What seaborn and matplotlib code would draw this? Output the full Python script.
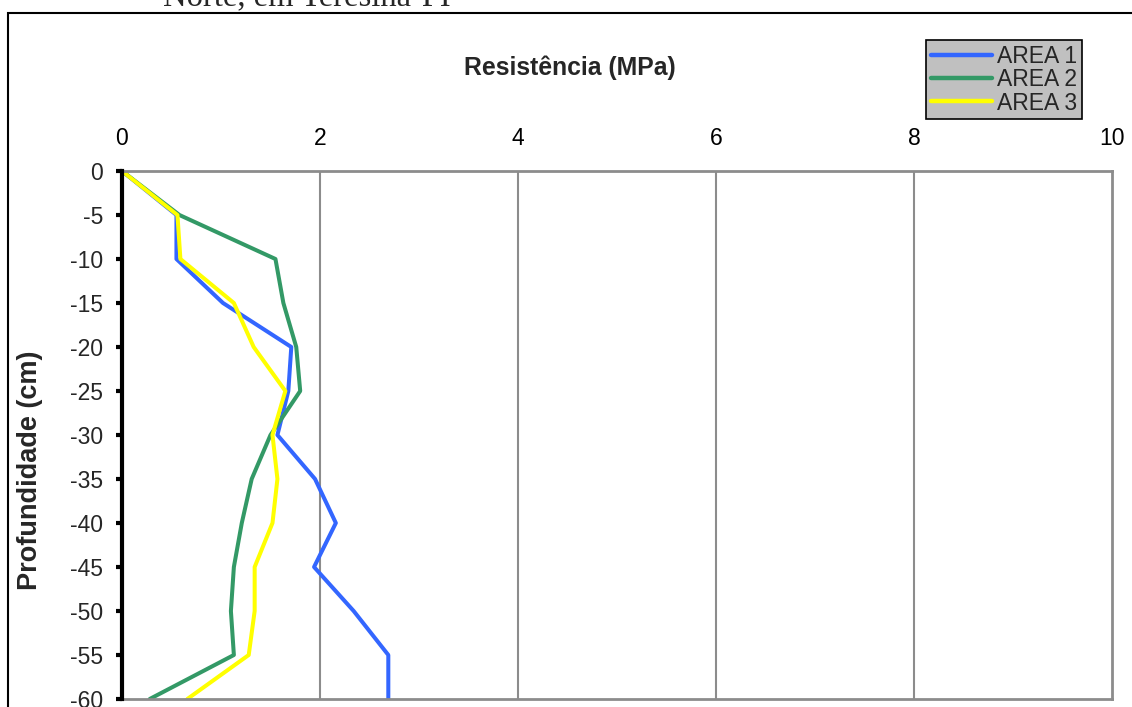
import matplotlib
matplotlib.use("Agg")
import matplotlib.pyplot as plt
import seaborn as sns
import pandas as pd
from matplotlib.patches import Rectangle

# Penetration resistance profiles (MPa) by depth (cm) for three areas
depth = [0, -5, -10, -15, -20, -25, -30, -35, -40, -45, -50, -55, -60]
area1 = [0.00, 0.55, 0.55, 1.02, 1.71, 1.68, 1.57, 1.95, 2.16, 1.94, 2.34, 2.69, 2.69]
area2 = [0.00, 0.58, 1.55, 1.63, 1.76, 1.80, 1.50, 1.31, 1.21, 1.13, 1.10, 1.13, 0.28]
area3 = [0.00, 0.56, 0.59, 1.13, 1.33, 1.65, 1.52, 1.57, 1.52, 1.34, 1.34, 1.28, 0.66]
area_names = ["AREA 1", "AREA 2", "AREA 3"]
area_colors = ["#3366FF", "#339966", "#FFFF00"]
x_ticks = [0, 2, 4, 6, 8, 10]
y_ticks = list(range(0, -61, -5))

frames = []
for name, vals in zip(area_names, [area1, area2, area3]):
    frames.append(pd.DataFrame({"Resistencia": vals, "Profundidade": depth, "Area": name}))
df = pd.concat(frames, ignore_index=True)

sns.set_style("white")
plt.rcParams["font.family"] = ["Liberation Sans", "DejaVu Sans"]
plt.rcParams["axes.unicode_minus"] = False

fig = plt.figure(figsize=(11.32, 7.07), dpi=100)
W, H = 1132, 707
ax = fig.add_axes([122 / W, 1 - 699 / H, (1112 - 122) / W, (699 - 171) / H])

sns.lineplot(data=df, x="Resistencia", y="Profundidade", hue="Area",
             palette=area_colors, sort=False, estimator=None,
             linewidth=2.9, ax=ax, legend=True)

ax.set_xlim(0, 10)
ax.set_ylim(-60, 0)
ax.set_xticks(x_ticks)
ax.set_yticks(y_ticks)
ax.xaxis.tick_top()
ax.tick_params(axis="x", length=0, pad=15, labelsize=16.5, colors="black")
ax.tick_params(axis="y", length=4.5, width=3, pad=9, labelsize=16.5,
               color="black", direction="out", left=True)
ax.set_xlabel("")
ax.set_ylabel("")

# vertical gridlines
for gx in x_ticks[1:-1]:
    ax.axvline(gx, color="#8c8c8c", lw=1.5, zorder=0.5)

for side in ["top", "right", "bottom"]:
    ax.spines[side].set_color("#8c8c8c")
    ax.spines[side].set_linewidth(2)
ax.spines["left"].set_color("black")
ax.spines["left"].set_linewidth(3)
ax.spines["left"].set_zorder(3)

handles, labels = ax.get_legend_handles_labels()
leg = ax.legend(handles, labels, loc="upper left",
                bbox_to_anchor=(926 / W, 1 - 40 / H), bbox_transform=fig.transFigure,
                fontsize=16.5, frameon=True, fancybox=False, framealpha=1,
                facecolor="#C0C0C0", edgecolor="black", borderpad=0.2,
                labelspacing=0.02, handlelength=2.7, handletextpad=0.2,
                borderaxespad=0)
leg.get_frame().set_linewidth(1.2)
for line in leg.get_lines():
    line.set_linewidth(3.2)

fig.text(570 / W, 1 - 68 / H, "Resistência (MPa)", ha="center", va="center",
         fontsize=17.8, fontweight="bold")
fig.text(30 / W, 1 - 470 / H, "Profundidade (cm)", ha="center", va="center",
         rotation=90, fontsize=19.5, fontweight="bold")

# caption line running off the top edge
fig.text(163 / W, 1 - 5 / H, "Norte, em Teresina-PI", ha="left", va="baseline",
         fontsize=23.5, family=["Liberation Serif", "DejaVu Serif"])

# outer chart border
fig.add_artist(Rectangle((8 / W, -0.05), 1.2, 1 - 12.5 / H + 0.05,
                         transform=fig.transFigure, fill=False,
                         edgecolor="black", lw=1.5))

fig.savefig("out.png", dpi=100)
